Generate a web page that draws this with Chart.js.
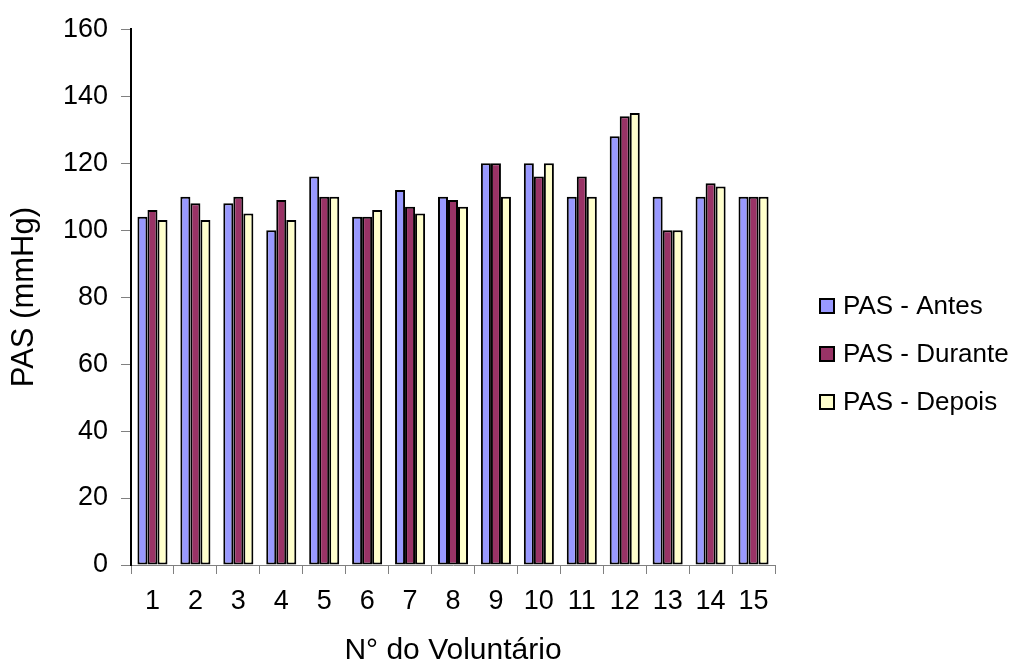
<!DOCTYPE html>
<html><head><meta charset="utf-8">
<script src="https://cdn.jsdelivr.net/npm/chart.js@4/dist/chart.umd.min.js"></script>
<style>html,body{margin:0;padding:0;background:#fff}#c{display:block}</style>
</head><body>
<canvas id="c" width="1018" height="666"></canvas>
<script>
const categories = ['1','2','3','4','5','6','7','8','9','10','11','12','13','14','15'];
const pasAntes   = [104,110,108,100,116,104,112,110,120,120,110,128,110,110,110];
const pasDurante = [106,108,110,109,110,104,107,109,120,116,116,134,100,114,110];
const pasDepois  = [103,103,105,103,110,106,105,107,110,120,110,135,100,113,110];
const seriesLabels = ['PAS - Antes','PAS - Durante','PAS - Depois'];
const seriesColors = ['#9999FF','#993366','#FFFFCC'];
const yTicks = {min:0, max:160, step:20};
const xTitle = 'N° do Voluntário';
const yTitle = 'PAS (mmHg)';

const font = 'Liberation Sans, Arial, sans-serif';

const sideLegend = {
  id: 'sideLegend',
  afterDraw(chart) {
    const ctx = chart.ctx;
    const x0 = 819, y0 = 306, gap = 48, box = 16;
    ctx.save();
    ctx.font = '26px ' + font;
    ctx.textBaseline = 'middle';
    ctx.textAlign = 'left';
    chart.data.datasets.forEach((ds, i) => {
      const cy = y0 + i * gap;
      ctx.fillStyle = ds.backgroundColor;
      ctx.fillRect(x0, cy - box / 2, box, box);
      ctx.strokeStyle = '#000';
      ctx.lineWidth = 2;
      ctx.strokeRect(x0 + 1, cy - box / 2 + 1, box - 2, box - 2);
      ctx.fillStyle = '#000';
      ctx.fillText(ds.label, 843, cy + 1);
    });
    ctx.restore();
  }
};

const makeDs = (i, data) => ({label: seriesLabels[i], data, backgroundColor: seriesColors[i], borderColor: '#000', borderWidth: 2});

new Chart(document.getElementById('c'), {
  type: 'bar',
  data: {
    labels: categories,
    datasets: [makeDs(0, pasAntes), makeDs(1, pasDurante), makeDs(2, pasDepois)]
  },
  plugins: [sideLegend],
  options: {
    responsive:false, animation:false,
    datasets:{bar:{categoryPercentage:0.7, barPercentage:1.0, borderSkipped:false}},
    layout:{padding:{left:0, top:26, right:243, bottom:0}},
    plugins:{ legend:{display:false}, tooltip:{enabled:false} },
    scales:{
      x:{
        afterFit(s){ s.height = 101; },
        grid:{display:true, drawOnChartArea:false, drawTicks:true, tickLength:9, color:'#808080', offset:true},
        border:{color:'#808080', width:1},
        ticks:{color:'#000', font:{family:font, size:27}, padding:11, maxRotation:0, autoSkip:false},
        title:{display:true, text:xTitle, color:'#000', font:{family:font, size:30, lineHeight:1}, padding:{top:0, bottom:0}}
      },
      y:{
        afterFit(s){ s.width = 131; },
        min:yTicks.min, max:yTicks.max,
        grid:{display:true, drawOnChartArea:false, drawTicks:true, tickLength:10, color:'#808080'},
        border:{color:'#000', width:2},
        ticks:{stepSize:yTicks.step, color:'#000', font:{family:font, size:27}, padding:13},
        title:{display:true, text:yTitle, color:'#000', font:{family:font, size:31, lineHeight:1}, padding:{top:9, bottom:0}}
      }
    }
  }
});
</script>
</body></html>
